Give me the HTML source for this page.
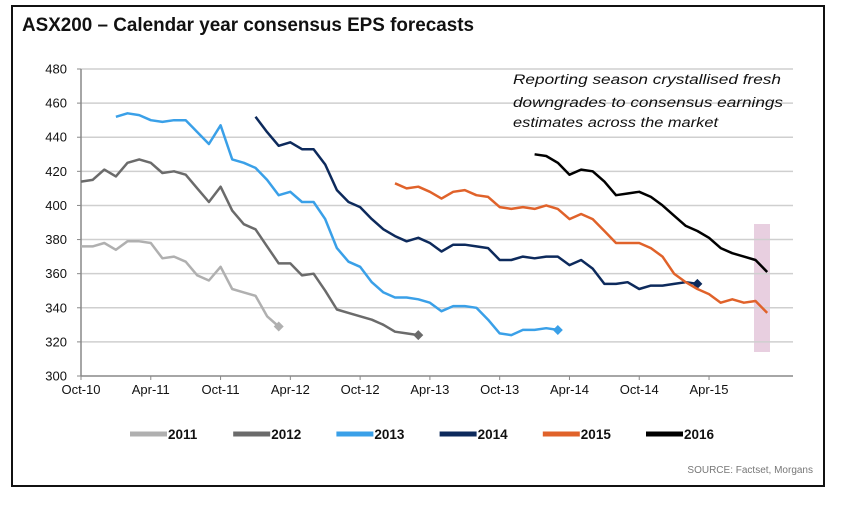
<!DOCTYPE html>
<html><head><meta charset="utf-8"><style>
body{margin:0;background:#fff;font-family:"Liberation Sans",Arial,sans-serif;}
svg{display:block}
</style></head><body>
<svg width="864" height="512" viewBox="0 0 864 512" id="chart">
<rect x="12" y="6" width="812" height="480" fill="#fff" stroke="#111" stroke-width="2"/>
<text x="22" y="31" font-size="19" font-weight="bold" fill="#111" textLength="452" lengthAdjust="spacingAndGlyphs">ASX200 – Calendar year consensus EPS forecasts</text>
<rect x="754" y="224" width="16" height="128" fill="#e8cfe0"/>
<g id="grid"></g><g id="axes"></g><g id="series"></g><g id="legend"></g>
<g font-size="13.5" font-style="italic" fill="#111">
<text x="513" y="84" textLength="268" lengthAdjust="spacingAndGlyphs">Reporting  season  crystallised  fresh</text>
<text x="513" y="107" textLength="270" lengthAdjust="spacingAndGlyphs">downgrades  to consensus  earnings</text>
<text x="513" y="127" textLength="205" lengthAdjust="spacingAndGlyphs">estimates across the market</text></g>
<text x="813" y="473" font-size="10" fill="#777" text-anchor="end">SOURCE: Factset, Morgans</text>
</svg>
<script>
const yTicks=[300,320,340,360,380,400,420,440,460,480];
const xLabels=["Oct-10","Apr-11","Oct-11","Apr-12","Oct-12","Apr-13","Oct-13","Apr-14","Oct-14","Apr-15"];
const seriesNames=["2011","2012","2013","2014","2015","2016"];
const seriesColors=["#b0b0b0","#6b6b6b","#3aa0e8","#0d2a5c","#e0622a","#000000"];
const seriesStart=[0,0,3,15,27,39];
const s2011=[376,376,378,374,379,379,378,369,370,367,359,356,364,351,349,347,335,329];
const s2012=[414,415,421,417,425,427,425,419,420,418,410,402,411,397,389,386,376,366,366,359,360,350,339,337,335,333,330,326,325,324];
const s2013=[452,454,453,450,449,450,450,443,436,447,427,425,422,415,406,408,402,402,392,375,367,364,355,349,346,346,345,343,338,341,341,340,333,325,324,327,327,328,327];
const s2014=[452,443,435,437,433,433,424,409,402,399,392,386,382,379,381,378,373,377,377,376,375,368,368,370,369,370,370,365,368,363,354,354,355,351,353,353,354,355,354];
const s2015=[413,410,411,408,404,408,409,406,405,399,398,399,398,400,398,392,395,392,385,378,378,378,375,370,360,355,351,348,343,345,343,344,337];
const s2016=[430,429,425,418,421,420,414,406,407,408,405,400,394,388,385,381,375,372,370,368,361];
const seriesData=[s2011,s2012,s2013,s2014,s2015,s2016];
const markerEnd=[true,true,true,true,false,false];
const NS="http://www.w3.org/2000/svg";
const X0=81,MONTH=11.63,Y0=376,Y1=69;
function xs(m){return X0+m*MONTH;}
function ys(v){return Y0-(v-300)/180*(Y0-Y1);}
function mk(t,a,p){const e=document.createElementNS(NS,t);for(const k in a)e.setAttribute(k,a[k]);p.appendChild(e);return e;}
const grid=document.getElementById('grid'),axes=document.getElementById('axes'),ser=document.getElementById('series'),leg=document.getElementById('legend');
yTicks.forEach(v=>{
  if(v>300){const l=mk('line',{x1:X0,x2:793,y1:ys(v),y2:ys(v),stroke:'#cfcfcf','stroke-width':1.5},grid);
  
  }
  const t=mk('text',{x:67,y:ys(v)+4.5,'font-size':13,'text-anchor':'end',fill:'#111'},axes);t.textContent=v;
  
  
  mk('line',{x1:X0-4,x2:X0,y1:ys(v),y2:ys(v),stroke:'#888'},axes);
});
const ax=mk('line',{x1:X0,x2:793,y1:Y0,y2:Y0,stroke:'#888','stroke-width':1.5},axes);


const ay=mk('line',{x1:X0,x2:X0,y1:Y1,y2:Y0,stroke:'#888','stroke-width':1.5},axes);


xLabels.forEach((s,i)=>{
  const x=xs(i*6);
  mk('line',{x1:x,x2:x,y1:Y0,y2:Y0+4,stroke:'#888'},axes);
  const t=mk('text',{x:x,y:Y0+18,'font-size':13,'text-anchor':'middle',fill:'#111'},axes);t.textContent=s;
  
  
});
seriesData.forEach((d,i)=>{
  const pts=d.map((v,j)=>xs(seriesStart[i]+j).toFixed(1)+','+ys(v).toFixed(1)).join(' ');
  const p=mk('polyline',{points:pts,fill:'none',stroke:seriesColors[i],'stroke-width':2.5,'stroke-linejoin':'round'},ser);
  
  
  if(markerEnd[i]){const x=xs(seriesStart[i]+d.length-1),y=ys(d[d.length-1]);
    const m=mk('polygon',{points:`${x-5},${y} ${x},${y-5} ${x+5},${y} ${x},${y+5}`,fill:seriesColors[i]},ser);
    
    }
  const lx=130+i*103.2;
  const g=mk('g',{},leg);
  
  
  mk('line',{x1:lx,x2:lx+37,y1:434,y2:434,stroke:seriesColors[i],'stroke-width':5},g);
  const t=mk('text',{x:lx+38,y:439,'font-size':13.5,'font-weight':'bold',fill:'#111'},g);t.textContent=seriesNames[i];
});
</script>
</body></html>
